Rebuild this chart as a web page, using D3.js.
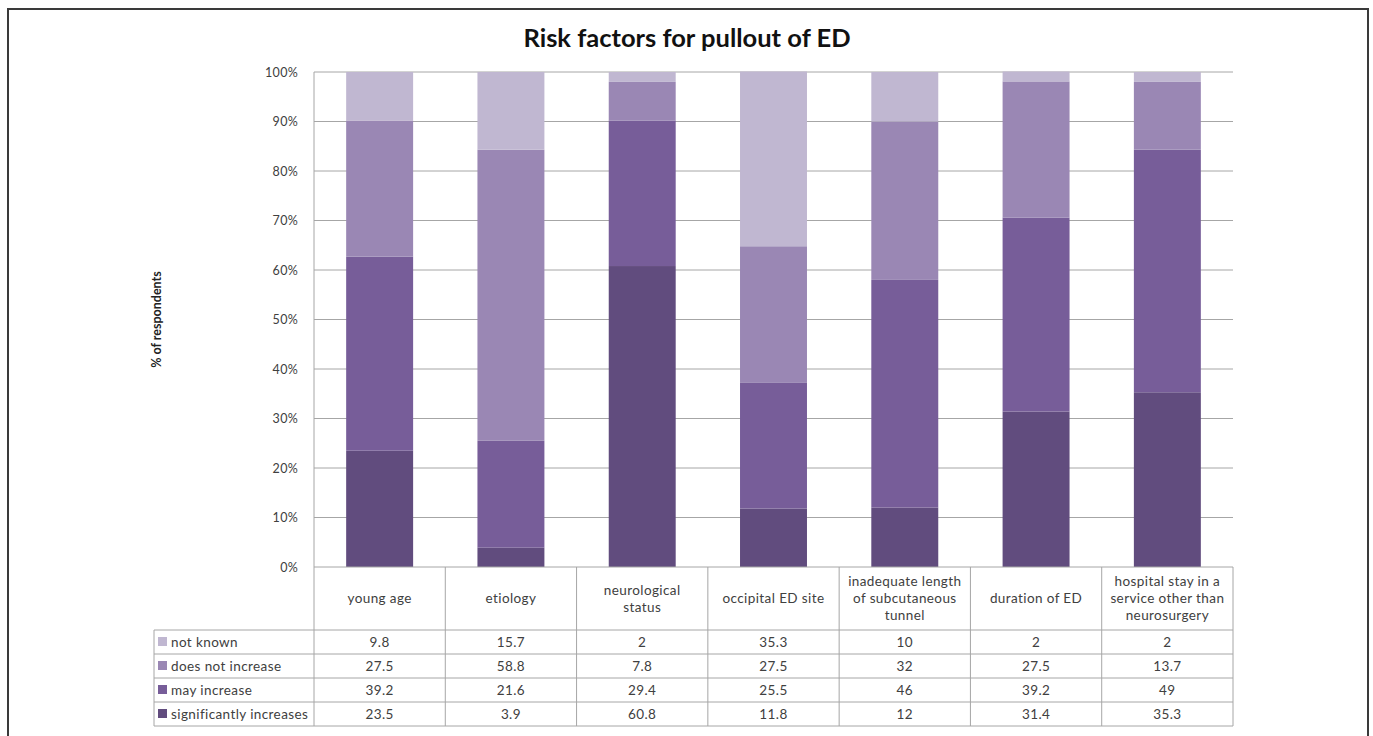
<!DOCTYPE html>
<html><head><meta charset="utf-8">
<script src="https://cdn.jsdelivr.net/npm/d3@7"></script>
<style>
body{margin:0;background:#fff;}
text{font-family:Lato,"Open Sans",sans-serif;}
.tbl{letter-spacing:0.4px;}
</style></head>
<body><svg id="c" width="1373" height="736"></svg>
<script>
const categories = ["young age","etiology","neurological\nstatus","occipital ED site","inadequate length\nof subcutaneous\ntunnel","duration of ED","hospital stay in a\nservice other than\nneurosurgery"];
const seriesNames = ["significantly increases","may increase","does not increase","not known"];
const significantlyIncreases = [23.5,3.9,60.8,11.8,12,31.4,35.3];
const mayIncrease = [39.2,21.6,29.4,25.5,46,39.2,49];
const doesNotIncrease = [27.5,58.8,7.8,27.5,32,27.5,13.7];
const notKnown = [9.8,15.7,2,35.3,10,2,2];
const yTicks = [0,10,20,30,40,50,60,70,80,90,100];
const colors = ["#614C7E","#775D99","#9A87B4","#C0B7D1"];

const seriesValues = [significantlyIncreases, mayIncrease, doesNotIncrease, notKnown];
const svg = d3.select("#c");
const L = 314, R = 1233, T = 72, B = 567;
const tableLeft = 154, headerBottom = 630, rowH = 24;
const fs = 13.5;

// outer frame
svg.append("path").attr("d","M8,740 V9 H1368 V740").attr("fill","none").attr("stroke","#3a3a3a").attr("stroke-width",2);

svg.append("text").attr("x",687).attr("y",47).attr("text-anchor","middle")
  .attr("font-size",25.5).attr("font-weight","bold").attr("fill","#111").text("Risk factors for pullout of ED");

const x = d3.scaleBand().domain(categories).range([L,R]).paddingInner(0).paddingOuter(0);
const y = d3.scaleLinear().domain([0,100]).range([B,T]);

// gridlines
svg.append("g").selectAll("line").data(yTicks.filter(d=>d>0)).join("line")
  .attr("x1",L).attr("x2",R).attr("y1",d=>y(d)).attr("y2",d=>y(d))
  .attr("stroke","#a6a6a6").attr("stroke-width",1);

// y axis
const yAxis = d3.axisLeft(y).tickValues(yTicks).tickFormat(d=>d+"%").tickSize(0).tickPadding(16);
const ga = svg.append("g").attr("transform",`translate(${L},0)`).call(yAxis);
ga.select(".domain").remove();
ga.selectAll("text").attr("font-size",12.5).attr("fill","#404040").attr("font-family","Lato,'Open Sans',sans-serif").attr("letter-spacing","0.3px");

svg.append("text").attr("transform",`translate(161,${(T+B)/2}) rotate(-90)`).attr("text-anchor","middle")
  .attr("font-size",12.5).attr("font-weight","bold").attr("fill","#222").text("% of respondents");

// stacked bars
const rows = categories.map((c,i)=>{const o={cat:c}; seriesNames.forEach((s,j)=>o[s]=seriesValues[j][i]); return o;});
const stack = d3.stack().keys(seriesNames)(rows);
const bw = x.bandwidth()*0.51;
svg.append("g").selectAll("g").data(stack).join("g").attr("fill",(d,i)=>colors[i])
  .selectAll("rect").data(d=>d).join("rect")
  .attr("x",d=>x(d.data.cat)+(x.bandwidth()-bw)/2).attr("width",bw)
  .attr("y",d=>y(d[1])).attr("height",d=>y(d[0])-y(d[1]));

// table lines
const tb = headerBottom + rowH*4;
const lc = "#a6a6a6";
const tg = svg.append("g").attr("stroke",lc).attr("stroke-width",1);
tg.append("line").attr("x1",L).attr("x2",L).attr("y1",T).attr("y2",tb);
tg.append("line").attr("x1",L).attr("x2",R).attr("y1",B).attr("y2",B);
categories.forEach((c,i)=>{ const xx = x(c)+x.bandwidth();
  tg.append("line").attr("x1",xx).attr("x2",xx).attr("y1",B).attr("y2",tb);});
tg.append("line").attr("x1",tableLeft).attr("x2",tableLeft).attr("y1",headerBottom).attr("y2",tb);
for(let r=0;r<=4;r++){
  tg.append("line").attr("x1",tableLeft).attr("x2",R).attr("y1",headerBottom+r*rowH).attr("y2",headerBottom+r*rowH);
}

// header labels
categories.forEach(c=>{
  const lines = c.split("\n");
  const cy = (B+headerBottom)/2, lh = 17;
  const t = svg.append("text").attr("class","tbl").attr("text-anchor","middle").attr("font-size",fs).attr("fill","#404040");
  lines.forEach((ln,k)=>{
    t.append("tspan").attr("x",x(c)+x.bandwidth()/2).attr("y",cy+(k-(lines.length-1)/2)*lh+4.5).text(ln);
  });
});

// table rows (top: not known)
const order = [3,2,1,0];
order.forEach((si,r)=>{
  const cy = headerBottom + r*rowH + rowH/2;
  svg.append("rect").attr("x",158).attr("y",cy-5).attr("width",9).attr("height",9).attr("fill",colors[si]);
  svg.append("text").attr("class","tbl").attr("x",171).attr("y",cy+4.5).attr("font-size",fs).attr("fill","#404040").text(seriesNames[si]);
  categories.forEach((c,i)=>{
    svg.append("text").attr("class","tbl").attr("x",x(c)+x.bandwidth()/2).attr("y",cy+4.5).attr("text-anchor","middle")
      .attr("font-size",fs).attr("fill","#404040").text(seriesValues[si][i]);
  });
});
</script></body></html>
